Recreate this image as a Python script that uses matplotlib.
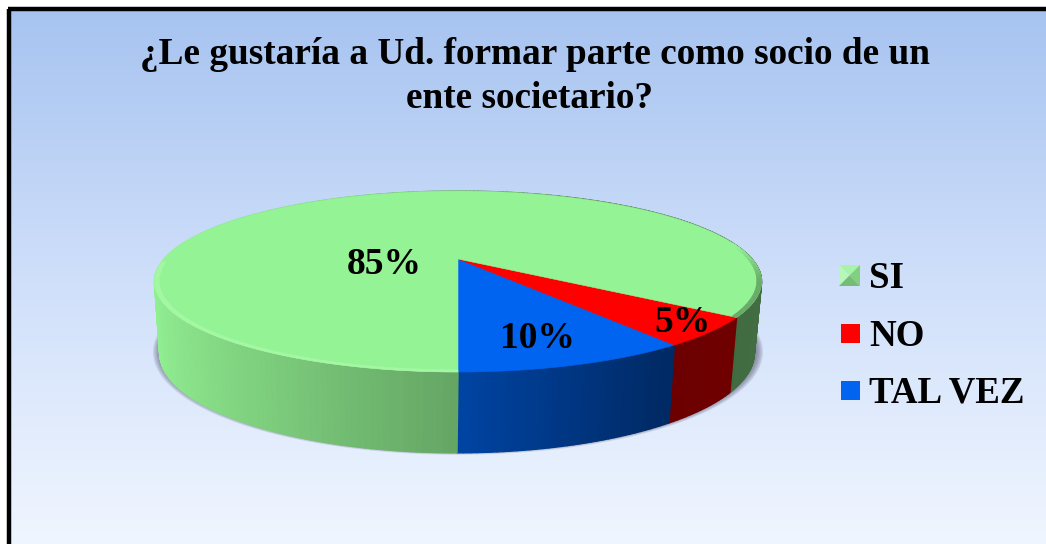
import numpy as np
import matplotlib
matplotlib.use('Agg')
from matplotlib import pyplot as plt
from matplotlib.collections import PolyCollection
from matplotlib.colors import LinearSegmentedColormap, to_rgb
from matplotlib.patches import Polygon, Rectangle

# data
categories = ['TAL VEZ', 'NO', 'SI']
percents = [10, 5, 85]
colors = ['#0064f0', '#ff0000', '#94f394']
title_lines = ['¿Le gustaría a Ud. formar parte como socio de un', 'ente societario?']

W, H = 1046, 544
plt.rcParams['font.family'] = ['Liberation Serif', 'DejaVu Serif']
plt.rcParams['font.weight'] = 'bold'

fig = plt.figure(figsize=(W / 100, H / 100), dpi=100)
ax = fig.add_axes([0, 0, 1, 1])
ax.set_xlim(0, W)
ax.set_ylim(H, 0)
ax.axis('off')


# perspective disc: t in degrees, 0 = front, growing to the right
def disc(t, cx, cy, a, b, k=0.2487, r=1.0):
    t = np.radians(t)
    x, s = r * np.sin(t), r * np.cos(t)
    w = 1 - k * s
    return np.column_stack([cx + a * x / w, cy + b * s / w])


def top(t, r=1.0):
    return disc(t, 458, 259, 294, 84.9, r=r)


def bottom(t, r=1.0):
    return disc(t, 457, 328, 288, 93.75, r=r)


def shade(t):
    return np.interp(np.sin(np.radians(t)), [-1, 0, 0.55, 1], [1.0, 0.68, 0.42, 0.45])


# background
bg = LinearSegmentedColormap.from_list('bg', ['#a6c3f0', '#cfdffa', '#f0f6ff'])
ax.imshow(np.linspace(0, 1, 256).reshape(-1, 1), cmap=bg, aspect='auto',
          extent=(9, W, H, 8), zorder=0)
ax.set_xlim(0, W)
ax.set_ylim(H, 0)
ax.plot([9, 9], [H, 8.5], color='black', lw=3.2, solid_capstyle='butt', zorder=1)
ax.plot([7.5, W], [8.5, 8.5], color='black', lw=3.2, solid_capstyle='butt', zorder=1)

edges = np.cumsum([0] + percents) * 3.6

# soft shadow under the pie
full = np.arange(0, 360, 1.0)
for grow in np.linspace(1.024, 1.0, 7):
    pts = disc(full, 458, 326, 288, 93.75, r=grow)
    ax.add_patch(Polygon(pts, closed=True, fc='#55556a', ec='none', alpha=0.14, zorder=2))

# side wall, back to front
quads, quad_colors = [], []
for i, pct in enumerate(percents):
    steps = np.arange(edges[i], edges[i + 1], 1.0)
    for t in steps:
        t2 = min(t + 1.0, edges[i + 1])
        ts = np.array([t, t2])
        quads.append(np.vstack([top(ts), bottom(ts)[::-1]]))
        quad_colors.append(np.array(to_rgb(colors[i])) * shade((t + t2) / 2))
order = sorted(range(len(quads)), key=lambda j: quads[j][:, 1].max())
side = PolyCollection([quads[j] for j in order], facecolors=[quad_colors[j] for j in order],
                      edgecolors=[quad_colors[j] for j in order], linewidths=1.0, zorder=3)
ax.add_collection(side)

# top faces
for i, pct in enumerate(percents):
    ts = np.linspace(edges[i], edges[i + 1], 200)
    pts = np.vstack([[458, 259], top(ts)])
    ax.add_patch(Polygon(pts, closed=True, fc=colors[i], ec=colors[i], lw=0.4, zorder=4))

# bevel on the green rim, only on the front part
rim, rim_col = [], []
for t in np.arange(edges[2], edges[3], 1.0):
    if 100 < t < 272:
        continue
    ts = np.array([t, t + 1.0])
    rim.append(np.vstack([top(ts), top(ts, r=0.985)[::-1]]))
    if t < 180:
        mix = np.interp(np.cos(np.radians(t)), [-0.15, 0.25], [0.0, 1.0])
        rim_col.append(np.array(to_rgb('#94f394')) * (1 - 0.3 * mix))
    else:
        rim_col.append(to_rgb('#a4f8a4'))
ax.add_collection(PolyCollection(rim, facecolors=rim_col, edgecolors=rim_col, linewidths=0.3, zorder=5))

# labels
for txt, (x, y) in zip(['%d%%' % p for p in percents], [(537, 338), (683, 322), (384, 264)]):
    ax.text(x, y, txt, ha='center', va='center', fontsize=27, color='black', zorder=6)

for line, (x, y) in zip(title_lines, [(535, 55), (530, 98)]):
    ax.text(x, y, line, ha='center', va='center', fontsize=26.8, color='black', zorder=6)

# legend
for name, c, y in zip(categories, colors, [390, 333, 275.5]):
    if name == 'SI':
        x0, x1, y0, y1 = 839, 860, 265, 286
        xm, ym = (x0 + x1) / 2, (y0 + y1) / 2
        ax.add_patch(Polygon([(x0, y0), (x1, y0), (xm, ym)], fc='#a6f4a6', ec='none', zorder=6))
        ax.add_patch(Polygon([(x0, y0), (x0, y1), (xm, ym)], fc='#b6f8b6', ec='none', zorder=6))
        ax.add_patch(Polygon([(x1, y0), (x1, y1), (xm, ym)], fc='#7fd07f', ec='none', zorder=6))
        ax.add_patch(Polygon([(x0, y1), (x1, y1), (xm, ym)], fc='#74bd74', ec='none', zorder=6))
    else:
        ax.add_patch(Rectangle((841, y - 9.5), 19, 19, fc=c, ec='none', zorder=6))
    ax.text(869, y + 3, name, ha='left', va='center', fontsize=26.6, color='black', zorder=6)

fig.savefig('out.png', dpi=100)
